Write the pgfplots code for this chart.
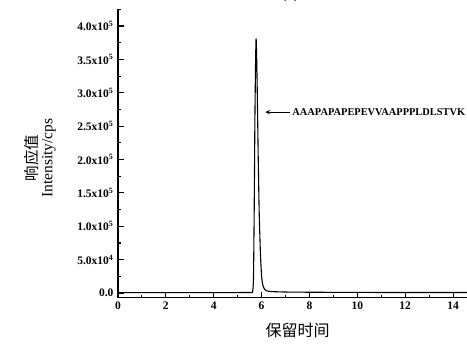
\documentclass[border=0pt]{standalone}
\usepackage{pgfplots}
\pgfplotsset{compat=1.18}
\usepackage{fontspec}
\setmainfont{Liberation Serif}
\newfontfamily\cjk{Noto Sans CJK SC}
\begin{document}
\begin{tikzpicture}
\begin{axis}[
  name=ax,
  scale only axis,
  width=359bp, height=288.4bp,
  xmin=0, xmax=15,
  ymin=-7000, ymax=425000,
  axis x line=bottom, axis y line=left,
  axis line style={-, line width=1.3bp},
  every tick/.style={black, line width=1.1bp},
  tick align=inside,
  major tick length=6bp, minor tick length=3bp,
  xtick={0,2,4,6,8,10,12,14},
  minor xtick={1,3,5,7,9,11,13,15},
  ytick={0,50000,100000,150000,200000,250000,300000,350000,400000},
  minor ytick={25000,75000,125000,175000,225000,275000,325000,375000,425000},
  scaled ticks=false,
  yticklabels={0.0,5.0x10\textsuperscript{4},1.0x10\textsuperscript{5},1.5x10\textsuperscript{5},2.0x10\textsuperscript{5},2.5x10\textsuperscript{5},3.0x10\textsuperscript{5},3.5x10\textsuperscript{5},4.0x10\textsuperscript{5}},
  xticklabels={0,2,4,6,8,10,12,14},
  ticklabel style={font=\fontsize{11.5bp}{13bp}\selectfont\bfseries},
  yticklabel style={xshift=-1bp},
  xticklabel style={yshift=-1bp},
  xlabel={\cjk 保留时间},
  xlabel style={at={(axis description cs:0.5,0)}, anchor=center, yshift=-33bp, font=\fontsize{16bp}{18bp}\selectfont},
  ylabel={{\cjk 响应值}\\Intensity/cps},
  ylabel style={at={(axis description cs:-0.217,0.484)}, anchor=center, align=center, font=\fontsize{15.5bp}{15bp}\selectfont},
  clip=false,
]
\addplot[black, line width=1.1bp, smooth, tension=0.3] coordinates {
(0,500) (2,500) (4,600) (5.5,800) (5.62,1500) (5.66,20000) (5.69,120000)
(5.72,260000) (5.75,350000) (5.77,381500) (5.79,360000) (5.82,300000)
(5.86,200000) (5.90,120000) (5.95,60000) (6.00,25000) (6.05,12000)
(6.12,6000) (6.2,3500) (6.4,2200) (7,1500) (8,1200) (10,900) (15,700)
};
\draw[-stealth, line width=1bp] (axis cs:7.19,271000) -- (axis cs:6.16,271000);
\node[anchor=west, inner sep=0pt, font=\fontsize{10.4bp}{12bp}\selectfont\bfseries] at (axis cs:7.28,271000) {AAAPAPAPEPEVVAAPPPLDLSTVK};
\node[anchor=base, font=\fontsize{16bp}{18bp}\selectfont] at (axis description cs:0.48,1.0365) {(a)};
\end{axis}
\pgfresetboundingbox
\useasboundingbox (-118bp,-48.3bp) rectangle (349bp,297.7bp);
\end{tikzpicture}
\end{document}
